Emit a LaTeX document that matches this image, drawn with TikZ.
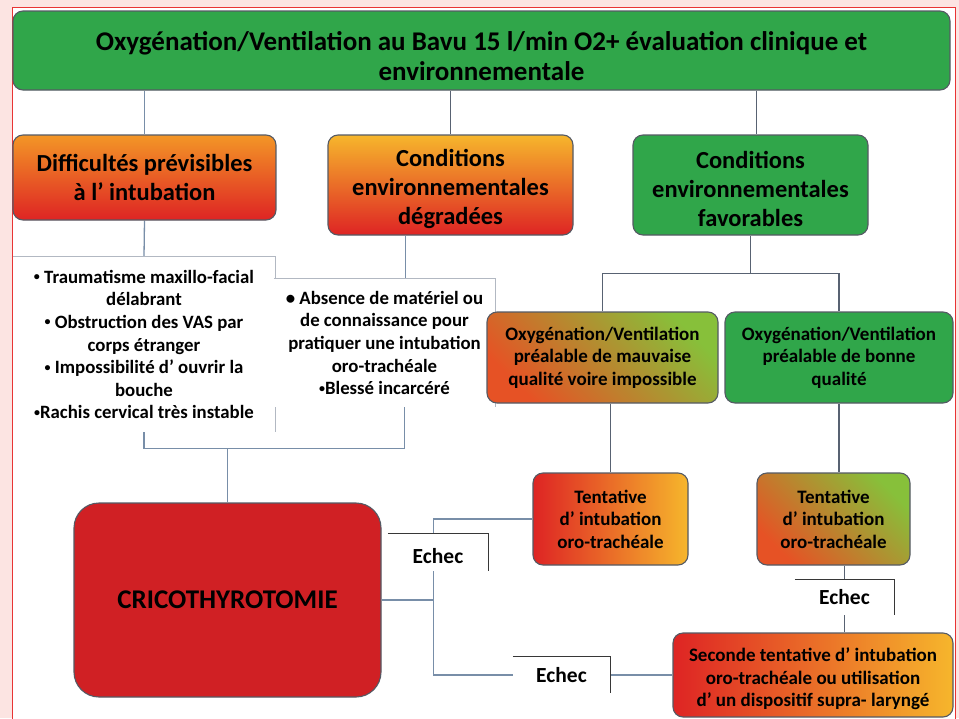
\documentclass[tikz,border=0pt]{standalone}
\usepackage{fontspec}
\setmainfont{Carlito}
\usetikzlibrary{positioning, backgrounds}

\definecolor{pinkbg}{RGB}{252,228,226}
\definecolor{framered}{RGB}{232,52,52}
\definecolor{boxgreen}{RGB}{48,166,74}
\definecolor{warmorange}{RGB}{243,150,38}
\definecolor{warmred}{RGB}{222,36,36}
\definecolor{warmyellow}{RGB}{246,182,44}
\definecolor{limegreen}{RGB}{135,192,58}
\definecolor{rustorange}{RGB}{205,128,42}
\definecolor{cricored}{RGB}{208,32,36}
\definecolor{rimgray}{RGB}{85,90,100}
\definecolor{linkblue}{RGB}{120,142,168}
\definecolor{linkdark}{RGB}{88,98,114}
\definecolor{rimlight}{RGB}{178,184,194}
\definecolor{labgray}{RGB}{55,55,55}

\newcommand{\smallbul}{\raisebox{2.5pt}{\fontsize{12}{12}\selectfont•}}

\begin{document}
\begin{tikzpicture}[
  x=1pt, y=-1pt,
  box/.style={rectangle, rounded corners=10pt, draw=rimgray, line width=1.1pt, align=center, inner sep=2pt, text=black},
  big/.style={box, font=\fontsize{24.5}{29}\selectfont\bfseries},
  small/.style={box, font=\fontsize{19}{22.5}\selectfont\bfseries},
  hot/.style={top color=warmorange, bottom color=warmred},
  mixed/.style={bottom color=warmred!60!warmorange, middle color=rustorange, top color=limegreen, shading angle=-45},
  txt/.style={rectangle, fill=white, align=center, inner sep=0pt, font=\fontsize{18.8}{22.6}\selectfont\bfseries},
  echec/.style={rectangle, fill=white, inner sep=0pt, font=\fontsize{21.5}{24}\selectfont\bfseries},
  link/.style={draw=linkblue, line width=1.3pt},
  darklink/.style={draw=linkdark, line width=1.3pt},
  edge/.style={draw=rimlight, line width=1pt},
  labedge/.style={draw=labgray, line width=1pt}
]
\useasboundingbox (0,0) rectangle (959,718);
\begin{scope}[on background layer]
  \fill[pinkbg] (0,0) rectangle (959,718);
  \fill[white] (12,7) rectangle (955,718);
  \draw[framered, line width=1pt] (12,730) -- (12,7) -- (955,7) -- (955,730);
\end{scope}

% first level
\node[big, fill=boxgreen, minimum width=937pt, minimum height=79pt, font=\fontsize{27}{30}\selectfont\bfseries] (top) at (481.5,50.5) {\rule{0pt}{31pt}Oxygénation/Ventilation au Bavu 15 l/min O2+ évaluation clinique et\\environnementale};
\node[big, hot, minimum width=263pt, minimum height=85pt] (diff) at (144.5,177.5) {Difficultés prévisibles\\à l’ intubation};
\node[big, top color=warmyellow, bottom color=warmred, minimum width=245pt, minimum height=100pt] (degr) at (450.5,185) {\rule{0pt}{26pt}Conditions\\environnementales\\dégradées};
\node[big, fill=boxgreen, minimum width=235pt, minimum height=100pt] (fav) at (750.5,185) {\rule{0pt}{26pt}Conditions\\environnementales\\favorables};

% criteria lists
\node[txt, minimum width=262pt, minimum height=175pt] (list1) at (144,344.5) {\smallbul\ Traumatisme maxillo-facial\\délabrant\\\smallbul\ Obstruction des VAS par\\corps étranger\\\smallbul\ Impossibilité d’ ouvrir la\\bouche\\\smallbul Rachis cervical très instable};
\draw[edge] (list1.north west) -- (list1.north east) -- (list1.south east);
\node[txt, minimum width=221pt, minimum height=128pt] (list2) at (384.5,343) {• Absence de matériel ou\\de connaissance pour\\pratiquer une intubation\\oro-trachéale\\\smallbul Blessé incarcéré};
\draw[edge] (list2.north west) -- (list2.north east) -- (list2.south east);

% ventilation quality
\node[small, mixed, minimum width=231pt, minimum height=91pt] (ov1) at (602.5,357.5) {Oxygénation/Ventilation\\préalable de mauvaise\\qualité voire impossible};
\node[small, fill=boxgreen, minimum width=228pt, minimum height=91pt] (ov2) at (839,357.5) {Oxygénation/Ventilation\\préalable de bonne\\qualité};

% attempts
\node[small, left color=warmred, right color=warmyellow, minimum width=155pt, minimum height=92pt] (tent1) at (610.5,519) {Tentative\\d’ intubation\\oro-trachéale};
\node[small, mixed, minimum width=153pt, minimum height=92pt] (tent2) at (833.5,519) {Tentative\\d’ intubation\\oro-trachéale};
\node[small, left color=warmred, right color=warmyellow, minimum width=280pt, minimum height=84pt] (sec) at (813,675) {\rule{0pt}{22pt}Seconde tentative d’ intubation\\oro-trachéale ou utilisation\\d’ un dispositif supra- laryngé};
\node[box, fill=cricored, rounded corners=25pt, minimum width=307pt, minimum height=194pt, font=\fontsize{27}{30}\selectfont\bfseries] (crico) at (227.5,600) {CRICOTHYROTOMIE};

% failure labels
\node[echec, minimum width=100pt, minimum height=37pt] (ech1) at (438,552.5) {\rule{0pt}{22pt}Echec};
\draw[labedge] (ech1.north west) -- (ech1.north east) -- (ech1.south east);
\node[echec, minimum width=97pt, minimum height=36pt] (ech2) at (561.5,675) {Echec};
\draw[labedge] (ech2.north west) -- (ech2.north east) -- (ech2.south east);
\node[echec, minimum width=99pt, minimum height=35pt] (ech3) at (844.5,597.5) {Echec};
\draw[labedge] (ech3.north west) -- (ech3.north east) -- (ech3.south east);

% connectors
\begin{scope}[on background layer]
  \draw[link] (top.south -| diff.north) -- (diff.north);
  \draw[darklink] (top.south -| degr.north) -- (degr.north);
  \draw[darklink] ([xshift=6pt]top.south -| fav.north) -- ([xshift=6pt]fav.north);
  \draw[link] (diff.south) -- (list1.north);
  \draw[link] ([xshift=-45pt]degr.south) -- ([xshift=-45pt]degr.south |- list2.north);
  \draw[darklink] (fav.south) -- ++(0,38) coordinate (fork);
  \draw[darklink] (ov1.north) |- (fork) -| (ov2.north);
  \draw[darklink] (ov1.south -| tent1.north) -- (tent1.north);
  \draw[darklink] (ov2.south) -- (ov2.south |- tent2.north);
  \draw[darklink] (tent2.south -| ech3.north) -- (ech3.north |- sec.north);
  \draw[link] (list1.south) -- ++(0,16) coordinate (jn) -| ([xshift=20pt]list2.south);
  \draw[link] (crico.north) -- (crico.north |- jn);
  \coordinate (split) at ([xshift=52pt]crico.east);
  \draw[link] (crico.east) -- (split);
  \draw[link] (tent1.west) -| (split);
  \draw[link] (sec.west) -| (split);
\end{scope}
\end{tikzpicture}
\end{document}
